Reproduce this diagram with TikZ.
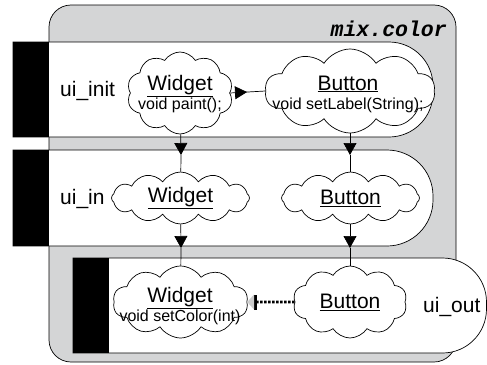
\documentclass[tikz,border=0pt]{standalone}
\usepackage{fontspec}
\setmainfont{Liberation Sans}
\newfontfamily\monobi{Liberation Mono}[BoldItalicFont={* Bold Italic}]
\usetikzlibrary{shapes.symbols,arrows.meta,decorations.markings}
\definecolor{bggray}{RGB}{212,213,214}
\tikzset{
  cloudnode/.style={cloud, cloud puffs=10, cloud puff arc=115, cloud ignores aspect,
    draw, fill=white, line width=0.7pt, inner sep=0pt},
  ctext/.style={align=center, inner sep=0pt, font=\fontsize{21}{22}\selectfont},
  band/.style={draw, fill=white, line width=0.7pt},
  bar/.style={fill=black, draw=none},
  lbl/.style={font=\fontsize{21}{24}\selectfont, inner sep=0pt},
  conn/.style={line width=0.7pt},
  tip/.style={-{Triangle[width=13pt,length=12pt]}},
}
\newcommand{\smalltxt}[1]{{\fontsize{16}{18}\selectfont #1}}
\begin{document}
\begin{tikzpicture}[x=1pt,y=-1pt]
\useasboundingbox (0,0) rectangle (487,364);
% outer grey container
\draw[fill=bggray, line width=0.7pt, rounded corners=22pt] (49,5) rectangle (456,362);
\node[anchor=base east, inner sep=0pt, font=\monobi\bfseries\itshape\fontsize{21.5}{24}\selectfont] (mix) at (447,36) {mix.color};
% bands
\draw[band] (13,42) [rounded corners=44pt] -- (433,42) -- (433,137) [sharp corners] -- (13,137) -- cycle;
\fill[bar] (13,42) rectangle (49,137);
\draw[band] (13,150) [rounded corners=46pt] -- (433,150) -- (433,246) [sharp corners] -- (13,246) -- cycle;
\fill[bar] (13,150) rectangle (49,246);
\draw[band] (73,258) [rounded corners=44pt] -- (486.5,258) -- (486.5,353) [sharp corners] -- (73,353) -- cycle;
\fill[bar] (73,258) rectangle (109,353);
% band labels
\node[lbl, anchor=base west] (init) at (60,96) {ui\_init};
\node[lbl, anchor=base west] (in) at (60,204) {ui\_in};
\node[lbl, anchor=base west] (out) at (423,312) {ui\_out};
% clouds
\node[cloudnode, minimum width=106pt, minimum height=82pt] (w1) at (180,93) {};
\node[cloudnode, minimum width=170pt, minimum height=84pt] (b1) at (350,91) {};
\node[cloudnode, minimum width=138pt, minimum height=52pt, cloud puffs=12] (w2) at (180.5,198) {};
\node[cloudnode, minimum width=138pt, minimum height=52pt, cloud puffs=12] (b2) at (350.5,198) {};
\node[cloudnode, minimum width=135pt, minimum height=72pt] (w3) at (180.5,302) {};
\node[cloudnode, minimum width=114pt, minimum height=72pt] (b3) at (350,302) {};
% cloud texts
\node[ctext] (w1t) at (180,94) {\underline{Widget}\\[-3pt]\smalltxt{void paint();}};
\node[ctext] (b1t) at (348,94) {\underline{Button}\\[-3pt]\smalltxt{void setLabel(String);}};
\node[ctext] (w2t) at (180.5,198) {\underline{Widget}};
\node[ctext] (b2t) at (350.5,198) {\underline{Button}};
\node[ctext] (w3t) at (180,306) {\underline{Widget}\\[-3pt]\smalltxt{void setColor(int)}};
\node[ctext] (b3t) at (350,302) {\underline{Button}};
% connectors
\coordinate (t1) at (181,155);
\coordinate (t2) at (350,155);
\coordinate (t3) at (181,248);
\coordinate (t4) at (350,248);
\draw[conn, tip] (w1) -- (t1);
\draw[conn] (t1) -- (w2);
\draw[conn, tip] (b1.south -| t2) -- (t2);
\draw[conn] (t2) -- (b2.north -| t2);
\draw[conn, tip] (w2) -- (t3);
\draw[conn] (t3) -- (w3);
\draw[conn, tip] (b2.south -| t4) -- (t4);
\draw[conn] (t4) -- (b3.north -| t4);
\draw[conn, postaction={decorate}, decoration={markings,
  mark=at position 17pt with {\arrow{Triangle[width=13pt,length=12pt]}}}] (w1.east) -- (b1.west);
\draw[line width=2.8pt, dash pattern=on 2.5pt off 1.5pt,
  -{Bar[width=15pt,line width=3pt] Triangle[width=15pt,length=7pt,color=gray!40,fill=gray!40,sep=0pt]}]
  (b3.west) -- (w3.east);
\end{tikzpicture}
\end{document}
